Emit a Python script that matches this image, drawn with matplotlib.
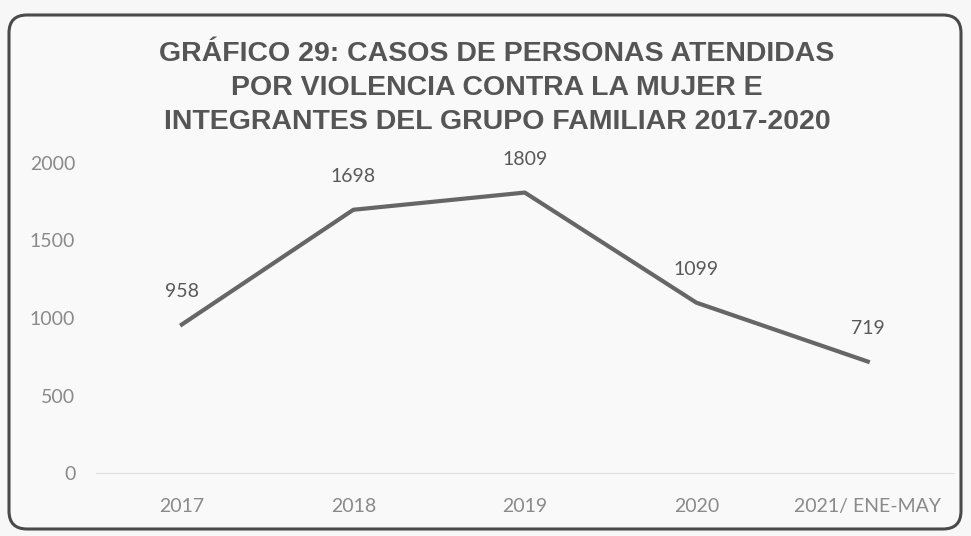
import matplotlib
matplotlib.use("Agg")
import matplotlib.pyplot as plt
from matplotlib.patches import FancyBboxPatch

# data
categories = ["2017", "2018", "2019", "2020", "2021/ ENE-MAY"]
casos = [958, 1698, 1809, 1099, 719]
y_ticks = [0, 500, 1000, 1500, 2000]
title = ("GRÁFICO 29: CASOS DE PERSONAS ATENDIDAS\n"
         "POR VIOLENCIA CONTRA LA MUJER E\n"
         "INTEGRANTES DEL GRUPO FAMILIAR 2017-2020")

W, H = 971, 536
fig = plt.figure(figsize=(W / 100, H / 100), dpi=100)
fig.patch.set_facecolor("#f7f7f7")

# rounded frame around the whole chart
bg = fig.add_axes([0, 0, 1, 1], zorder=-1)
bg.set_xlim(0, W)
bg.set_ylim(0, H)
bg.axis("off")
frame = FancyBboxPatch((9, 7), W - 19, H - 22,
                       boxstyle="round,pad=0,rounding_size=18",
                       facecolor="#f9f9f9", edgecolor="#4a4a4a", linewidth=2.2)
bg.add_patch(frame)

fig.text(0.512, 0.836, title, ha="center", va="center", fontsize=20.5,
         fontweight="bold", color="#555555", linespacing=1.42,
         family=["Liberation Sans Narrow", "Liberation Sans", "DejaVu Sans"])

ax = fig.add_axes([0.099, 0.1175, 0.883, 0.5785])
ax.patch.set_alpha(0)
x = list(range(len(categories)))
ax.plot(x, casos, color="#666666", linewidth=3, solid_joinstyle="round")

for xi, v in zip(x, casos):
    ax.annotate(str(v), (xi, v), xytext=(0, 24), textcoords="offset points",
                ha="center", va="center", fontsize=14, color="#595959",
                family=["Lato", "DejaVu Sans"])

ax.set_xlim(-0.5, len(categories) - 0.5)
ax.set_ylim(0, 2000)
ax.set_yticks(y_ticks)
ax.set_xticks(x)
ax.set_xticklabels(categories)
for s in ["top", "right", "left"]:
    ax.spines[s].set_visible(False)
ax.spines["bottom"].set_color("#e2e2e2")
ax.tick_params(length=0, colors="#8a8a8a", labelsize=14)
ax.tick_params(axis="x", pad=18)
ax.tick_params(axis="y", pad=15)
for lab in ax.get_xticklabels() + ax.get_yticklabels():
    lab.set_family(["Lato", "DejaVu Sans"])

fig.savefig("out.png", dpi=100, facecolor=fig.get_facecolor())
